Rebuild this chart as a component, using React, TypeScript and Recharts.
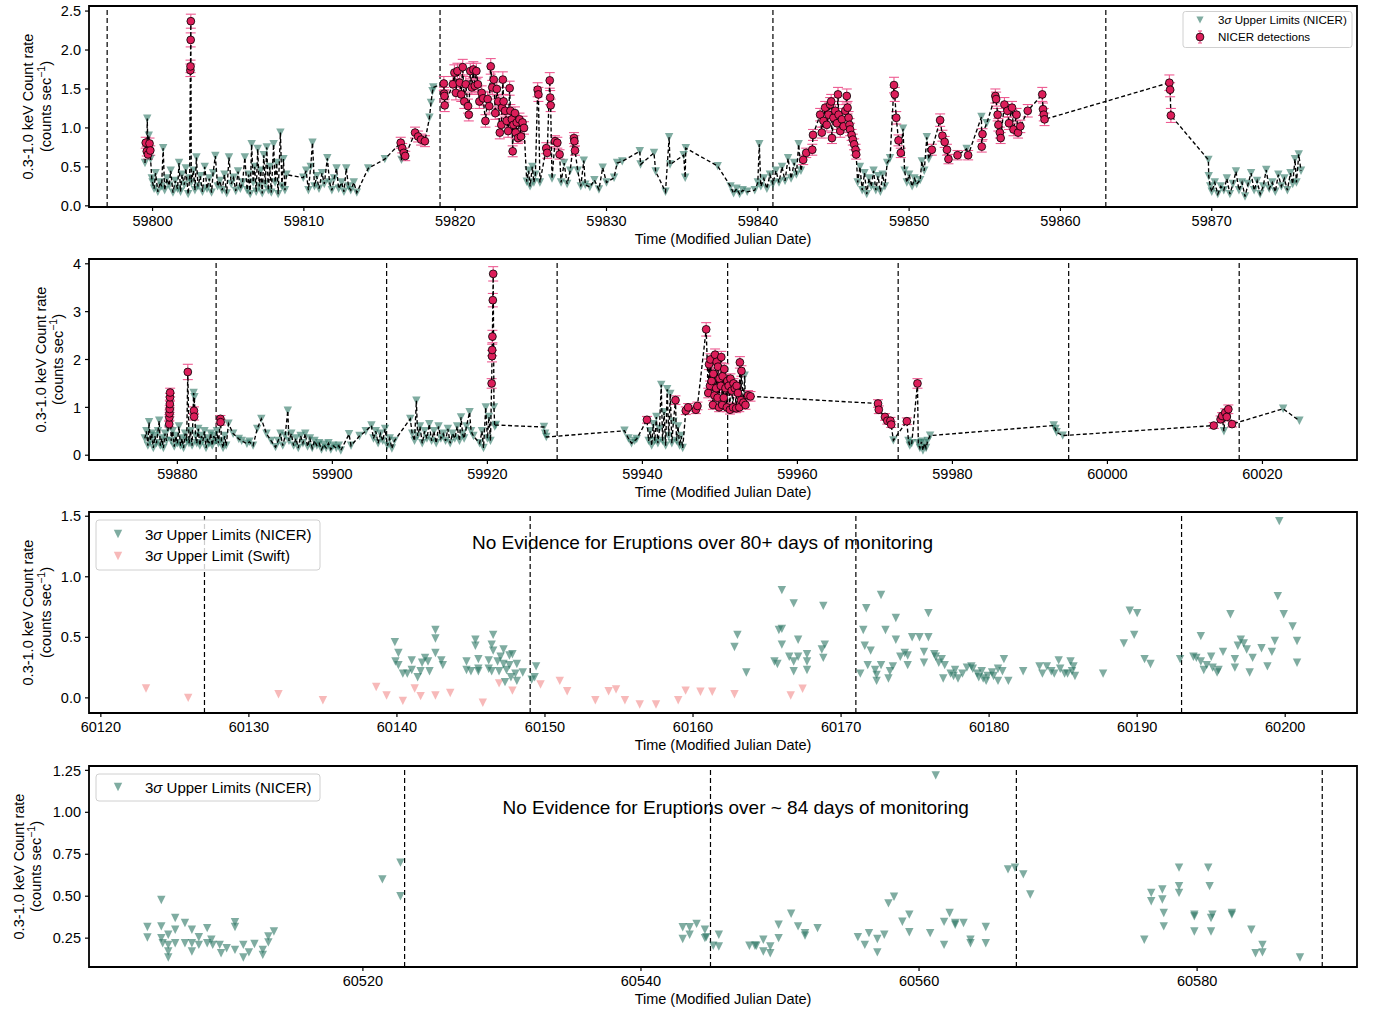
import React from "react";
import {
  ComposedChart,
  Scatter,
  XAxis,
  YAxis,
  ReferenceLine,
  ReferenceArea,
  ErrorBar,
} from "recharts";

const FONT = '"Liberation Sans", Arial, Helvetica, sans-serif';
const LIMIT = "#2a7463";
const SWIFT = "#f08080";
const DET = "#dc1e5a";
const ERR = "#ee5b92";

// ---------- panel 1 (MJD 59796 - 59880) ----------
const p1Epochs = [59797, 59819, 59841, 59863];
const p1XTicks = [59800, 59810, 59820, 59830, 59840, 59850, 59860, 59870];
const p1YTicks = [0, 0.5, 1, 1.5, 2, 2.5];

const p1Limits = [
  [59799.5, 0.55], [59799.58, 0.75], [59799.65, 1.12], [59799.75, 0.9], [59799.87, 0.6], [59799.95, 0.35],
  [59800.0, 0.3], [59800.1, 0.22], [59800.2, 0.42], [59800.35, 0.18], [59800.5, 0.3], [59800.6, 0.25],
  [59800.7, 0.74], [59800.8, 0.2], [59800.95, 0.35], [59801.1, 0.26], [59801.2, 0.45], [59801.35, 0.17],
  [59801.5, 0.32], [59801.65, 0.22], [59801.75, 0.55], [59801.85, 0.18], [59801.95, 0.4], [59802.1, 0.27],
  [59802.2, 0.48], [59802.35, 0.15], [59802.45, 0.35], [59802.56, 0.3], [59802.7, 0.45], [59802.8, 0.2],
  [59802.9, 0.62], [59803.0, 0.25], [59803.15, 0.38], [59803.3, 0.18], [59803.45, 0.5], [59803.6, 0.22],
  [59803.75, 0.35], [59803.9, 0.17], [59804.0, 0.42], [59804.15, 0.64], [59804.3, 0.25], [59804.45, 0.32],
  [59804.6, 0.2], [59804.75, 0.4], [59804.9, 0.16], [59805.05, 0.62], [59805.2, 0.28], [59805.35, 0.36],
  [59805.5, 0.19], [59805.65, 0.44], [59805.8, 0.22], [59805.95, 0.3], [59806.1, 0.62], [59806.25, 0.2],
  [59806.35, 0.4], [59806.45, 0.15], [59806.55, 0.79], [59806.65, 0.3], [59806.75, 0.5], [59806.85, 0.18],
  [59806.95, 0.73], [59807.05, 0.25], [59807.15, 0.45], [59807.25, 0.16], [59807.35, 0.65], [59807.45, 0.28],
  [59807.55, 0.75], [59807.65, 0.2], [59807.75, 0.5], [59807.85, 0.17], [59808.0, 0.79], [59808.1, 0.3],
  [59808.2, 0.55], [59808.3, 0.15], [59808.45, 0.94], [59808.55, 0.25], [59808.65, 0.6], [59808.75, 0.2],
  [59808.85, 0.4], [59809.96, 0.36], [59810.15, 0.45], [59810.3, 0.2], [59810.45, 0.5], [59810.57, 0.81],
  [59810.7, 0.25], [59810.85, 0.38], [59811.0, 0.22], [59811.2, 0.42], [59811.35, 0.28], [59811.55, 0.61],
  [59811.7, 0.3], [59811.85, 0.2], [59812.0, 0.35], [59812.16, 0.48], [59812.3, 0.22], [59812.5, 0.3],
  [59812.65, 0.18], [59812.8, 0.48], [59812.95, 0.25], [59813.1, 0.2], [59813.3, 0.3], [59813.5, 0.17],
  [59814.25, 0.48], [59815.35, 0.6], [59816.45, 0.59], [59818.3, 1.13], [59818.4, 1.32], [59818.5, 1.47],
  [59818.55, 1.52], [59824.73, 0.31], [59824.85, 0.45], [59824.95, 0.25], [59825.1, 0.5], [59825.2, 0.3],
  [59825.3, 0.4], [59825.6, 0.3], [59826.4, 0.35], [59827.0, 0.3], [59827.2, 0.55], [59827.4, 0.28],
  [59827.6, 0.45], [59828.1, 0.45], [59828.3, 0.25], [59828.5, 0.58], [59828.6, 0.27], [59828.9, 0.24],
  [59829.2, 0.33], [59829.5, 0.21], [59829.75, 0.49], [59830.0, 0.3], [59830.5, 0.36], [59830.7, 0.55],
  [59831.04, 0.57], [59832.2, 0.7], [59832.25, 0.53], [59833.14, 0.68], [59833.25, 0.44], [59833.9, 0.18],
  [59834.14, 0.88], [59834.2, 0.53], [59835.1, 0.65], [59835.2, 0.36], [59835.24, 0.74], [59837.35, 0.51],
  [59838.2, 0.25], [59838.4, 0.16], [59838.6, 0.22], [59838.8, 0.15], [59839.0, 0.2], [59839.3, 0.18],
  [59839.8, 0.2], [59840.0, 0.3], [59840.1, 0.79], [59840.2, 0.25], [59840.4, 0.35], [59840.6, 0.22],
  [59840.8, 0.4], [59841.0, 0.28], [59841.2, 0.45], [59841.4, 0.3], [59841.6, 0.5], [59841.8, 0.32],
  [59842.0, 0.61], [59842.2, 0.35], [59842.4, 0.55], [59842.55, 0.4], [59842.7, 0.79], [59842.85, 0.45],
  [59846.6, 0.3], [59846.75, 0.5], [59846.9, 0.2], [59847.05, 0.42], [59847.2, 0.15], [59847.35, 0.35],
  [59847.5, 0.25], [59847.65, 0.45], [59847.8, 0.2], [59847.95, 0.38], [59848.1, 0.18], [59848.25, 0.4],
  [59848.4, 0.25], [59848.55, 0.55], [59848.74, 0.61], [59849.6, 0.99], [59849.7, 0.45], [59849.85, 0.3],
  [59850.0, 0.4], [59850.2, 0.25], [59850.35, 0.35], [59850.5, 0.28], [59850.73, 0.33], [59850.84, 0.57],
  [59851.0, 0.45], [59851.17, 0.88], [59851.3, 0.6], [59853.8, 0.73], [59854.78, 1.14], [59855.13, 1.06],
  [59869.78, 0.59], [59869.8, 0.38], [59869.9, 0.25], [59870.0, 0.18], [59870.2, 0.3], [59870.4, 0.15],
  [59870.6, 0.25], [59870.8, 0.2], [59871.0, 0.35], [59871.2, 0.15], [59871.4, 0.28], [59871.6, 0.44],
  [59871.8, 0.2], [59872.0, 0.3], [59872.2, 0.12], [59872.4, 0.28], [59872.6, 0.42], [59872.8, 0.2],
  [59873.0, 0.32], [59873.2, 0.15], [59873.4, 0.25], [59873.6, 0.46], [59873.8, 0.22], [59874.0, 0.3],
  [59874.2, 0.18], [59874.4, 0.4], [59874.6, 0.25], [59874.8, 0.35], [59875.0, 0.2], [59875.2, 0.42],
  [59875.35, 0.28], [59875.5, 0.6], [59875.6, 0.3], [59875.75, 0.66], [59875.9, 0.45],
];

const p1Detections = [
  [59799.55, 0.81, 0.07], [59799.62, 0.7, 0.06], [59799.7, 0.66, 0.06], [59799.8, 0.8, 0.07], [59799.85, 0.71, 0.06],
  [59802.5, 1.74, 0.08], [59802.51, 1.79, 0.08], [59802.52, 2.13, 0.09], [59802.53, 2.37, 0.09],
  [59816.4, 0.81, 0.07], [59816.5, 0.74, 0.06], [59816.6, 0.68, 0.06], [59816.7, 0.64, 0.06],
  [59817.35, 0.94, 0.07], [59817.55, 0.89, 0.07], [59817.75, 0.85, 0.07], [59818.0, 0.83, 0.07],
  [59819.25, 1.57, 0.09], [59819.27, 1.44, 0.08], [59819.29, 1.41, 0.08], [59819.31, 1.29, 0.08],
  [59819.85, 1.56, 0.1], [59819.95, 1.71, 0.1], [59820.05, 1.45, 0.09], [59820.15, 1.73, 0.1], [59820.3, 1.58, 0.1],
  [59820.4, 1.43, 0.09], [59820.5, 1.78, 0.1], [59820.6, 1.34, 0.09], [59820.7, 1.56, 0.1], [59820.85, 1.28, 0.09],
  [59820.9, 1.17, 0.08], [59821.0, 1.73, 0.1], [59821.1, 1.52, 0.09], [59821.2, 1.75, 0.1], [59821.3, 1.54, 0.09],
  [59821.4, 1.73, 0.1], [59821.5, 1.56, 0.09], [59821.6, 1.34, 0.09], [59821.75, 1.45, 0.09], [59821.85, 1.38, 0.09],
  [59822.0, 1.09, 0.08], [59822.15, 1.37, 0.09], [59822.25, 1.28, 0.09], [59822.35, 1.79, 0.1], [59822.45, 1.52, 0.09],
  [59822.55, 1.62, 0.1], [59822.65, 1.19, 0.08], [59822.75, 1.5, 0.09], [59822.85, 1.34, 0.09], [59822.95, 0.94, 0.08],
  [59823.05, 1.04, 0.08], [59823.1, 1.26, 0.09], [59823.15, 1.62, 0.1], [59823.2, 1.34, 0.09], [59823.3, 1.22, 0.08],
  [59823.4, 1.09, 0.08], [59823.5, 0.96, 0.08], [59823.6, 1.51, 0.09], [59823.65, 1.22, 0.08], [59823.75, 1.11, 0.08],
  [59823.8, 0.7, 0.07], [59823.85, 1.04, 0.08], [59823.95, 1.19, 0.08], [59824.0, 0.94, 0.08], [59824.07, 1.07, 0.08],
  [59824.15, 0.87, 0.07], [59824.25, 1.11, 0.08], [59824.35, 0.89, 0.07], [59824.45, 1.07, 0.08], [59824.55, 1.0, 0.08],
  [59825.45, 1.49, 0.09], [59825.5, 1.43, 0.09], [59826.02, 0.74, 0.07], [59826.08, 0.68, 0.07],
  [59826.25, 1.61, 0.1], [59826.28, 1.39, 0.09], [59826.31, 1.29, 0.08],
  [59826.6, 0.83, 0.07], [59826.75, 0.81, 0.07], [59826.9, 0.66, 0.06],
  [59827.85, 0.87, 0.07], [59827.88, 0.83, 0.07], [59827.92, 0.71, 0.06],
  [59843.0, 0.59, 0.06], [59843.2, 0.68, 0.06], [59843.6, 0.72, 0.07], [59843.65, 0.91, 0.07],
  [59844.12, 1.17, 0.08], [59844.23, 0.94, 0.07], [59844.34, 1.09, 0.08], [59844.45, 1.26, 0.08], [59844.56, 1.04, 0.08],
  [59844.67, 1.17, 0.08], [59844.78, 1.3, 0.09], [59844.85, 1.34, 0.09], [59844.9, 0.87, 0.07], [59845.0, 1.13, 0.08],
  [59845.12, 1.22, 0.08], [59845.23, 1.06, 0.08], [59845.3, 1.43, 0.09], [59845.34, 1.17, 0.08], [59845.45, 0.96, 0.08],
  [59845.56, 1.11, 0.08], [59845.67, 1.02, 0.08], [59845.78, 1.22, 0.08], [59845.88, 1.41, 0.09], [59845.93, 1.26, 0.08],
  [59846.0, 1.13, 0.08], [59846.06, 1.04, 0.08], [59846.1, 0.98, 0.08], [59846.2, 0.91, 0.07], [59846.28, 0.85, 0.07],
  [59846.37, 0.79, 0.07], [59846.46, 0.72, 0.07], [59846.5, 0.66, 0.06],
  [59849.0, 1.55, 0.1], [59849.05, 1.43, 0.09], [59849.15, 1.13, 0.08], [59849.3, 0.84, 0.07], [59849.45, 0.68, 0.06],
  [59851.5, 0.72, 0.07], [59852.05, 1.1, 0.08], [59852.2, 0.9, 0.07], [59852.35, 0.82, 0.07], [59852.5, 0.72, 0.07],
  [59852.6, 0.6, 0.06], [59853.2, 0.65, 0.06], [59853.9, 0.65, 0.06], [59854.8, 0.76, 0.07], [59854.85, 0.92, 0.07],
  [59855.7, 1.41, 0.09], [59855.75, 1.37, 0.09], [59855.85, 1.17, 0.08], [59855.9, 1.04, 0.08], [59856.0, 0.94, 0.07],
  [59856.05, 0.87, 0.07], [59856.3, 1.3, 0.09], [59856.5, 1.22, 0.08], [59856.6, 1.06, 0.08], [59856.8, 1.26, 0.08],
  [59856.9, 0.98, 0.08], [59857.1, 1.17, 0.08], [59857.2, 0.94, 0.07], [59857.35, 1.02, 0.08], [59857.84, 1.22, 0.08],
  [59858.8, 1.43, 0.09], [59858.85, 1.24, 0.08], [59858.9, 1.17, 0.08], [59858.95, 1.11, 0.08],
  [59867.2, 1.58, 0.1], [59867.25, 1.49, 0.09], [59867.3, 1.16, 0.09],
];

// ---------- panel 2 (MJD 59868 - 60032) ----------
const p2Epochs = [59885, 59907, 59929, 59951, 59973, 59995, 60017];
const p2XTicks = [59880, 59900, 59920, 59940, 59960, 59980, 60000, 60020];
const p2YTicks = [0, 1, 2, 3, 4];

const p2Limits = [
  [59875.8, 0.35], [59876.0, 0.5], [59876.2, 0.2], [59876.35, 0.69], [59876.5, 0.3], [59876.7, 0.45],
  [59876.9, 0.15], [59877.1, 0.4], [59877.3, 0.25], [59877.5, 0.5], [59877.66, 0.72], [59877.8, 0.2],
  [59878.0, 0.35], [59878.2, 0.15], [59878.4, 0.45], [59878.6, 0.3], [59878.8, 0.55], [59879.2, 0.3],
  [59879.4, 0.5], [59879.6, 0.18], [59879.8, 0.4], [59880.0, 0.25], [59880.2, 0.6], [59880.4, 0.2],
  [59880.6, 0.35], [59880.8, 0.15], [59881.0, 0.45], [59881.2, 0.3], [59881.5, 0.25], [59881.7, 0.5],
  [59881.9, 0.2], [59882.1, 1.3], [59882.2, 1.21], [59882.35, 0.4], [59882.5, 0.25], [59882.7, 0.55],
  [59882.9, 0.2], [59883.1, 0.4], [59883.3, 0.3], [59883.5, 0.5], [59883.7, 0.15], [59883.9, 0.35],
  [59884.1, 0.25], [59884.3, 0.45], [59884.5, 0.2], [59884.7, 0.4], [59884.9, 0.3], [59885.1, 0.5],
  [59885.3, 0.25], [59885.7, 0.3], [59885.9, 0.15], [59886.1, 0.4], [59886.3, 0.2], [59886.6, 0.66],
  [59887.2, 0.45], [59887.93, 0.34], [59888.3, 0.3], [59888.98, 0.24], [59889.3, 0.28], [59889.77, 0.2],
  [59890.3, 0.55], [59890.83, 0.76], [59891.5, 0.45], [59892.1, 0.3], [59892.67, 0.17], [59893.0, 0.3],
  [59893.3, 0.45], [59893.6, 0.2], [59893.9, 0.4], [59894.25, 0.93], [59894.4, 0.3], [59894.7, 0.45],
  [59895.0, 0.2], [59895.3, 0.35], [59895.6, 0.15], [59895.9, 0.4], [59896.2, 0.25], [59896.5, 0.45],
  [59896.8, 0.18], [59897.1, 0.35], [59897.4, 0.15], [59897.7, 0.3], [59898.0, 0.2], [59898.3, 0.25],
  [59898.6, 0.12], [59898.9, 0.22], [59899.2, 0.15], [59899.5, 0.25], [59899.8, 0.12], [59900.1, 0.2],
  [59900.5, 0.15], [59900.83, 0.2], [59901.09, 0.1], [59902.15, 0.44], [59902.41, 0.2], [59903.5, 0.4],
  [59904.3, 0.5], [59905.04, 0.62], [59905.3, 0.35], [59905.6, 0.5], [59905.9, 0.25], [59906.2, 0.45],
  [59906.5, 0.3], [59906.8, 0.55], [59907.1, 0.2], [59907.4, 0.35], [59907.68, 0.14], [59908.0, 0.3],
  [59910.05, 0.76], [59910.3, 0.45], [59910.6, 0.3], [59910.84, 1.14], [59911.0, 0.4], [59911.3, 0.6],
  [59911.6, 0.25], [59911.9, 0.5], [59912.2, 0.35], [59912.5, 0.65], [59912.8, 0.3], [59913.1, 0.5],
  [59913.4, 0.25], [59913.7, 0.6], [59914.0, 0.35], [59914.3, 0.45], [59914.6, 0.3], [59914.9, 0.55],
  [59915.2, 0.25], [59915.5, 0.45], [59915.8, 0.35], [59916.1, 0.6], [59916.4, 0.3], [59916.6, 0.79],
  [59916.8, 0.45], [59917.0, 0.35], [59917.3, 0.6], [59917.7, 0.9], [59917.9, 0.5], [59918.2, 0.4],
  [59919.0, 0.25], [59919.3, 0.5], [59919.5, 0.15], [59919.79, 1.0], [59920.0, 0.35], [59920.2, 0.8],
  [59920.4, 0.3], [59920.85, 1.0], [59920.95, 0.6], [59921.1, 0.63], [59927.3, 0.59], [59927.45, 0.45],
  [59927.6, 0.38], [59937.69, 0.51], [59938.2, 0.35], [59938.6, 0.25], [59939.0, 0.3], [59939.27, 0.34],
  [59940.8, 0.3], [59941.0, 0.5], [59941.2, 0.2], [59941.4, 0.65], [59941.6, 0.3], [59941.8, 0.8],
  [59942.0, 0.25], [59942.2, 0.55], [59942.43, 1.47], [59942.6, 0.3], [59942.8, 0.9], [59943.0, 0.2],
  [59943.2, 1.38], [59943.4, 0.4], [59943.6, 1.28], [59943.8, 0.25], [59944.0, 0.7], [59944.4, 0.3],
  [59944.6, 0.6], [59944.8, 0.2], [59945.0, 0.4], [59945.2, 0.15], [59953.2, 1.66], [59972.38, 0.31],
  [59974.33, 0.3], [59974.5, 0.2], [59974.75, 0.25], [59975.6, 0.25], [59975.8, 0.15], [59976.0, 0.28],
  [59976.2, 0.1], [59976.4, 0.25], [59976.6, 0.15], [59976.8, 0.3], [59977.12, 0.41], [59993.07, 0.62],
  [59993.3, 0.55], [59993.44, 0.48], [59994.23, 0.41], [60015.03, 0.5], [60022.67, 0.97], [60024.77, 0.72],
];

const p2Detections = [
  [59878.95, 0.65, 0.06], [59878.97, 0.79, 0.06], [59878.99, 0.875, 0.07], [59879.01, 0.965, 0.07],
  [59879.03, 1.07, 0.08], [59879.05, 1.21, 0.08], [59879.07, 1.31, 0.09], [59881.35, 1.74, 0.16],
  [59882.14, 0.93, 0.08], [59882.16, 0.805, 0.07], [59885.56, 0.76, 0.07], [59885.58, 0.69, 0.06],
  [59920.55, 1.5, 0.1], [59920.6, 2.07, 0.12], [59920.62, 2.2, 0.12], [59920.65, 2.48, 0.13],
  [59920.7, 3.24, 0.14], [59920.75, 3.79, 0.15], [59940.59, 0.74, 0.07], [59944.27, 1.15, 0.09],
  [59945.6, 0.93, 0.08], [59945.9, 1.0, 0.08], [59946.9, 0.95, 0.08], [59947.1, 1.03, 0.08],
  [59948.23, 2.63, 0.14],
  [59948.5, 1.3, 0.1], [59948.6, 1.9, 0.11], [59948.72, 1.45, 0.1], [59948.78, 2.0, 0.12],
  [59948.93, 1.55, 0.1], [59949.1, 1.05, 0.09], [59949.15, 1.7, 0.11], [59949.3, 1.25, 0.1],
  [59949.38, 2.1, 0.12], [59949.52, 1.4, 0.1], [59949.58, 1.95, 0.12], [59949.7, 1.2, 0.1],
  [59949.75, 1.85, 0.11], [59949.9, 1.0, 0.09], [59949.95, 1.6, 0.1], [59950.12, 1.45, 0.1],
  [59950.18, 2.05, 0.12], [59950.3, 1.05, 0.09], [59950.35, 1.65, 0.11], [59950.5, 1.2, 0.1],
  [59950.56, 1.8, 0.11], [59950.72, 1.4, 0.1], [59950.9, 1.0, 0.09], [59950.96, 1.55, 0.1],
  [59951.13, 1.45, 0.1], [59951.3, 0.95, 0.09], [59951.36, 1.6, 0.1], [59951.53, 1.35, 0.1],
  [59951.7, 1.0, 0.09], [59951.76, 1.5, 0.1], [59951.93, 1.4, 0.1], [59952.1, 0.98, 0.09],
  [59952.16, 1.45, 0.1], [59952.33, 1.3, 0.1], [59952.5, 1.0, 0.09], [59952.58, 1.94, 0.12],
  [59952.72, 1.15, 0.1], [59952.78, 1.76, 0.11], [59953.03, 1.1, 0.09], [59953.3, 1.05, 0.09],
  [59953.63, 1.25, 0.1], [59953.95, 1.23, 0.1],
  [59970.4, 1.08, 0.08], [59970.5, 0.95, 0.08], [59971.3, 0.8, 0.07], [59971.6, 0.72, 0.07],
  [59972.0, 0.72, 0.07], [59972.1, 0.64, 0.06], [59974.12, 0.71, 0.07], [59975.49, 1.5, 0.1],
  [60013.72, 0.62, 0.06], [60014.6, 0.75, 0.07], [60014.8, 0.82, 0.07], [60015.2, 0.89, 0.08],
  [60015.4, 0.8, 0.07], [60015.6, 0.96, 0.09], [60016.08, 0.65, 0.06],
];

// ---------- panel 3 (MJD 60119 - 60205) ----------
const p3Epochs = [60127, 60149, 60171, 60193];
const p3XTicks = [60120, 60130, 60140, 60150, 60160, 60170, 60180, 60190, 60200];
const p3YTicks = [0, 0.5, 1, 1.5];

const p3Nicer = [
  [60139.86, 0.46], [60140.1, 0.37], [60139.9, 0.3], [60140.1, 0.27], [60140.4, 0.2], [60140.7, 0.2],
  [60141.0, 0.31], [60141.0, 0.23], [60141.4, 0.17], [60141.6, 0.22], [60141.7, 0.29], [60141.9, 0.33],
  [60142.1, 0.3], [60142.2, 0.22], [60142.6, 0.56], [60142.6, 0.49], [60142.6, 0.37], [60143.0, 0.31],
  [60143.1, 0.27], [60144.7, 0.3], [60144.7, 0.23], [60145.0, 0.22], [60145.3, 0.48], [60145.3, 0.43],
  [60145.5, 0.32], [60145.5, 0.24], [60145.5, 0.22], [60146.2, 0.31], [60146.2, 0.24], [60146.4, 0.22],
  [60146.5, 0.52], [60146.4, 0.44], [60146.5, 0.39], [60146.8, 0.3], [60146.9, 0.22], [60147.0, 0.34],
  [60147.2, 0.4], [60147.2, 0.28], [60147.3, 0.13], [60147.4, 0.23], [60147.6, 0.35], [60147.6, 0.27],
  [60147.7, 0.17], [60147.8, 0.36], [60148.0, 0.2], [60148.1, 0.14], [60148.1, 0.28], [60148.5, 0.21],
  [60149.1, 0.15], [60149.3, 0.17], [60149.4, 0.26],
  [60162.8, 0.42], [60163.0, 0.52], [60163.6, 0.21], [60165.5, 0.3], [60165.7, 0.28], [60165.8, 0.56],
  [60166.0, 0.57], [60166.0, 0.89], [60166.0, 0.44], [60166.5, 0.34], [60166.8, 0.78], [60166.8, 0.3],
  [60166.8, 0.22], [60167.1, 0.48], [60167.1, 0.34], [60167.7, 0.36], [60167.7, 0.3], [60167.7, 0.23],
  [60168.7, 0.4], [60168.8, 0.33], [60168.8, 0.76], [60168.9, 0.44],
  [60171.3, 0.2], [60171.5, 0.56], [60171.6, 0.43], [60171.7, 0.74], [60171.8, 0.27], [60172.0, 0.39],
  [60172.3, 0.23], [60172.4, 0.19], [60172.4, 0.14], [60172.7, 0.85], [60172.7, 0.27], [60173.0, 0.56],
  [60173.2, 0.16], [60173.3, 0.22], [60173.5, 0.26], [60173.7, 0.66], [60173.7, 0.48], [60174.0, 0.34],
  [60174.3, 0.37], [60174.5, 0.35], [60174.5, 0.27], [60174.8, 0.5], [60175.3, 0.5], [60175.6, 0.38],
  [60175.6, 0.29], [60175.9, 0.7], [60175.9, 0.5], [60176.3, 0.36], [60176.4, 0.34], [60176.6, 0.29],
  [60176.8, 0.32], [60176.9, 0.16], [60177.0, 0.27], [60177.4, 0.2], [60177.6, 0.18], [60177.7, 0.23],
  [60177.9, 0.16], [60178.2, 0.2], [60178.5, 0.25], [60178.8, 0.26], [60178.9, 0.24], [60179.2, 0.2],
  [60179.3, 0.17], [60179.5, 0.22], [60179.6, 0.16], [60179.8, 0.14], [60179.9, 0.18], [60180.2, 0.21],
  [60180.3, 0.18], [60180.6, 0.24], [60180.6, 0.14], [60180.9, 0.22], [60181.0, 0.32], [60181.3, 0.14],
  [60182.3, 0.22], [60183.4, 0.26], [60183.6, 0.2], [60183.9, 0.26], [60184.2, 0.22], [60184.4, 0.2],
  [60184.7, 0.31], [60184.8, 0.24], [60185.1, 0.2], [60185.3, 0.2], [60185.5, 0.3], [60185.6, 0.22],
  [60185.7, 0.26], [60185.8, 0.18], [60187.7, 0.2], [60189.1, 0.45], [60189.5, 0.72], [60189.8, 0.52],
  [60190.0, 0.7], [60190.5, 0.32], [60190.9, 0.28], [60192.9, 0.32], [60193.8, 0.34], [60194.0, 0.33],
  [60194.3, 0.51], [60194.3, 0.3], [60194.5, 0.23], [60194.7, 0.27], [60195.0, 0.34], [60195.1, 0.25],
  [60195.4, 0.21], [60195.5, 0.23], [60195.8, 0.38], [60196.3, 0.69], [60196.6, 0.32], [60196.6, 0.25],
  [60196.8, 0.43], [60197.0, 0.48], [60197.2, 0.45], [60197.4, 0.4], [60197.6, 0.21], [60197.8, 0.33],
  [60198.4, 0.41], [60198.8, 0.26], [60199.1, 0.38], [60199.3, 0.47], [60199.5, 0.84], [60199.6, 1.46],
  [60199.9, 0.69], [60200.5, 0.59], [60200.8, 0.47], [60200.8, 0.29],
];

const p3Swift = [
  [60123.05, 0.077], [60125.9, 0.0], [60132.0, 0.03], [60135.0, -0.02], [60138.6, 0.09], [60139.3, 0.02],
  [60140.4, -0.025], [60141.2, 0.077], [60141.6, 0.014], [60142.6, 0.02], [60143.6, 0.04], [60145.8, -0.04],
  [60146.9, 0.12], [60147.8, 0.06], [60149.7, 0.11], [60151.0, 0.14], [60151.5, 0.055], [60153.4, -0.02],
  [60154.3, 0.055], [60154.8, 0.07], [60155.4, -0.02], [60156.4, -0.055], [60157.5, -0.055], [60159.0, -0.02],
  [60159.5, 0.06], [60160.5, 0.05], [60161.3, 0.05], [60162.8, 0.03], [60166.6, 0.02], [60167.4, 0.075],
];

// ---------- panel 4 (MJD 60500 - 60592) ----------
const p4Epochs = [60523, 60545, 60567, 60589];
const p4XTicks = [60520, 60540, 60560, 60580];
const p4YTicks = [0.25, 0.5, 0.75, 1.0, 1.25];

const p4Nicer = [
  [60504.5, 0.316], [60504.5, 0.254], [60505.5, 0.477], [60505.5, 0.32], [60505.5, 0.25], [60505.6, 0.22],
  [60506.0, 0.27], [60506.0, 0.21], [60506.0, 0.17], [60506.0, 0.135], [60506.5, 0.37], [60506.5, 0.3],
  [60506.5, 0.22], [60507.2, 0.34], [60507.2, 0.22], [60507.7, 0.3], [60507.7, 0.22], [60507.7, 0.17],
  [60508.2, 0.255], [60508.2, 0.21], [60508.8, 0.31], [60508.8, 0.22], [60509.1, 0.24], [60509.2, 0.21],
  [60509.7, 0.21], [60509.8, 0.16], [60510.2, 0.19], [60510.8, 0.345], [60510.8, 0.316], [60510.8, 0.18],
  [60511.4, 0.21], [60511.4, 0.135], [60511.8, 0.165], [60512.2, 0.215], [60512.8, 0.18], [60512.8, 0.15],
  [60513.2, 0.225], [60513.2, 0.26], [60513.6, 0.29], [60521.4, 0.6], [60522.7, 0.7], [60522.7, 0.5],
  [60543.0, 0.315], [60543.0, 0.245], [60543.5, 0.315], [60543.5, 0.27], [60544.0, 0.335], [60544.6, 0.3],
  [60544.6, 0.25], [60544.7, 0.256], [60545.2, 0.205], [60545.6, 0.27], [60545.6, 0.2], [60547.8, 0.205],
  [60548.2, 0.205], [60548.3, 0.205], [60548.8, 0.24], [60548.8, 0.17], [60549.3, 0.2], [60549.3, 0.16],
  [60549.9, 0.33], [60549.9, 0.25], [60550.8, 0.395], [60551.3, 0.32], [60551.8, 0.28], [60551.8, 0.265],
  [60552.7, 0.31], [60555.6, 0.256], [60556.1, 0.21], [60556.4, 0.28], [60557.0, 0.245], [60557.0, 0.165],
  [60557.5, 0.27], [60557.8, 0.457], [60558.2, 0.497], [60558.8, 0.348], [60559.3, 0.39], [60559.3, 0.285],
  [60560.8, 0.28], [60561.2, 1.22], [60561.8, 0.347], [60561.8, 0.21], [60562.2, 0.4], [60562.6, 0.34],
  [60562.6, 0.33], [60563.2, 0.34], [60563.7, 0.24], [60563.7, 0.22], [60564.8, 0.316], [60564.8, 0.22],
  [60566.4, 0.66], [60566.9, 0.67], [60567.5, 0.63], [60568.0, 0.51], [60576.2, 0.24], [60576.7, 0.52],
  [60576.7, 0.47], [60577.5, 0.54], [60577.5, 0.48], [60577.6, 0.4], [60577.6, 0.32], [60578.7, 0.67],
  [60578.7, 0.56], [60578.7, 0.52], [60579.8, 0.39], [60579.8, 0.38], [60579.8, 0.29], [60580.8, 0.67],
  [60580.9, 0.56], [60581.0, 0.37], [60581.1, 0.39], [60581.0, 0.29], [60582.5, 0.4], [60582.5, 0.39],
  [60583.9, 0.3], [60584.2, 0.16], [60584.7, 0.21], [60584.7, 0.165], [60587.4, 0.135],
];

type Pt = { t: number; v: number; e?: number };
const pts = (rows: number[][]): Pt[] => rows.map((r) => ({ t: r[0], v: r[1], e: r[2] }));
const joined = (a: number[][], b: number[][]): Pt[] =>
  pts([...a, ...b]).sort((p, q) => p.t - q.t);

const tri = (color: string, opacity: number, s = 4.2) => (props: any) => {
  const { cx, cy } = props;
  if (cx == null || cy == null) return <g />;
  return (
    <path
      d={`M${cx - s},${cy - s}L${cx + s},${cy - s}L${cx},${cy + s}Z`}
      fill={color}
      fillOpacity={opacity}
    />
  );
};

const dot = (props: any) => {
  const { cx, cy } = props;
  if (cx == null || cy == null) return <g />;
  return <circle cx={cx} cy={cy} r={3.9} fill={DET} stroke="#000" strokeWidth={0.8} />;
};

const nothing = () => <g />;

interface PanelProps {
  top: number;
  xDomain: [number, number];
  yDomain: [number, number];
  xTicks: number[];
  yTicks: number[];
  yDigits: number;
  epochs: number[];
  limits: number[][];
  detections?: number[][];
  swift?: number[][];
}

function Panel(p: PanelProps) {
  const [x0, x1] = p.xDomain;
  const [y0, y1] = p.yDomain;
  const tickStyle = { fill: "#000", fontSize: 14.5, fontFamily: FONT };
  return (
    <div style={{ position: "absolute", left: 0, top: p.top }}>
      <ComposedChart width={1374} height={253} margin={{ top: 6, right: 17, bottom: 0, left: 0 }}>
        <XAxis
          type="number"
          dataKey="t"
          domain={p.xDomain}
          ticks={p.xTicks}
          allowDataOverflow
          interval={0}
          height={46}
          axisLine={false}
          tickSize={4}
          tickMargin={5}
          tickLine={{ stroke: "#000", strokeWidth: 1.2 }}
          tick={tickStyle}
        />
        <YAxis
          type="number"
          dataKey="v"
          domain={p.yDomain}
          ticks={p.yTicks}
          allowDataOverflow
          interval={0}
          width={89}
          axisLine={false}
          tickSize={4}
          tickMargin={4}
          tickLine={{ stroke: "#000", strokeWidth: 1.2 }}
          tick={tickStyle}
          tickFormatter={(v: number) => v.toFixed(p.yDigits)}
        />
        {p.epochs.map((x) => (
          <ReferenceLine key={x} x={x} stroke="#000" strokeWidth={1.2} strokeDasharray="5 3" />
        ))}
        {p.swift && (
          <Scatter data={pts(p.swift)} shape={tri(SWIFT, 0.55)} isAnimationActive={false} />
        )}
        <Scatter data={pts(p.limits)} shape={tri(LIMIT, 0.6)} isAnimationActive={false} />
        {p.detections && (
          <Scatter
            data={joined(p.limits, p.detections)}
            shape={nothing}
            line={{ stroke: "#000", strokeWidth: 1.35, strokeDasharray: "4 2.5" }}
            isAnimationActive={false}
          />
        )}
        {p.detections && (
          <Scatter data={pts(p.detections)} shape={dot} isAnimationActive={false}>
            <ErrorBar dataKey="e" direction="y" width={5} stroke={ERR} strokeWidth={1.1} />
          </Scatter>
        )}
        <ReferenceArea
          x1={x0}
          x2={x1}
          y1={y0}
          y2={y1}
          fill="none"
          stroke="#000"
          strokeWidth={1.8}
          ifOverflow="visible"
        />
      </ComposedChart>
    </div>
  );
}

function YTitle({ x1, x2, cy }: { x1: number; x2: number; cy: number }) {
  return (
    <g fontFamily={FONT} fontSize={14.5} fill="#000">
      <text transform={`translate(${x1},${cy}) rotate(-90)`} textAnchor="middle">
        0.3-1.0 keV Count rate
      </text>
      <text transform={`translate(${x2},${cy}) rotate(-90)`} textAnchor="middle">
        (counts sec
        <tspan dy={-6} fontSize={10.5}>−1</tspan>
        <tspan dy={6}>)</tspan>
      </text>
    </g>
  );
}

function LegendTri({ x, y, color, opacity, s = 4.2 }: any) {
  return (
    <path
      d={`M${x - s},${y - s}L${x + s},${y - s}L${x},${y + s}Z`}
      fill={color}
      fillOpacity={opacity}
    />
  );
}

function Overlay() {
  const titleY = [244, 497, 750, 1004];
  return (
    <svg
      width={1374}
      height={1013}
      style={{ position: "absolute", left: 0, top: 0, pointerEvents: "none" }}
    >
      <YTitle x1={33} x2={50.5} cy={106.5} />
      <YTitle x1={45.5} x2={63} cy={359.5} />
      <YTitle x1={33} x2={50.5} cy={612.5} />
      <YTitle x1={23.5} x2={41} cy={866.5} />
      {titleY.map((y) => (
        <text key={y} x={723} y={y} textAnchor="middle" fontFamily={FONT} fontSize={14.5}>
          Time (Modified Julian Date)
        </text>
      ))}

      {/* legend, panel 1 */}
      <rect x={1183} y={11.5} width={169} height={36} rx={2.5} fill="#fff" fillOpacity={0.8} stroke="#d0d0d0" />
      <LegendTri x={1200} y={20} color={LIMIT} opacity={0.6} s={3.6} />
      <text x={1218} y={24} fontFamily={FONT} fontSize={11.6}>
        3<tspan fontStyle="italic">σ</tspan> Upper Limits (NICER)
      </text>
      <line x1={1200} x2={1200} y1={31} y2={43} stroke={ERR} strokeWidth={1.1} />
      <line x1={1198} x2={1202} y1={31} y2={31} stroke={ERR} strokeWidth={1.1} />
      <line x1={1198} x2={1202} y1={43} y2={43} stroke={ERR} strokeWidth={1.1} />
      <circle cx={1200} cy={37} r={3.9} fill={DET} stroke="#000" strokeWidth={0.8} />
      <text x={1218} y={41} fontFamily={FONT} fontSize={11.6}>
        NICER detections
      </text>

      {/* legend + note, panel 3 */}
      <rect x={96} y={520} width={224} height={50} rx={3} fill="#fff" fillOpacity={0.8} stroke="#d0d0d0" />
      <LegendTri x={118} y={534} color={LIMIT} opacity={0.6} />
      <text x={145} y={539.5} fontFamily={FONT} fontSize={15}>
        3<tspan fontStyle="italic">σ</tspan> Upper Limits (NICER)
      </text>
      <LegendTri x={118} y={556} color={SWIFT} opacity={0.55} />
      <text x={145} y={561} fontFamily={FONT} fontSize={15}>
        3<tspan fontStyle="italic">σ</tspan> Upper Limit (Swift)
      </text>
      <text x={472} y={548.5} fontFamily={FONT} fontSize={19}>
        No Evidence for Eruptions over 80+ days of monitoring
      </text>

      {/* legend + note, panel 4 */}
      <rect x={96} y={774} width={224} height={27} rx={3} fill="#fff" fillOpacity={0.8} stroke="#d0d0d0" />
      <LegendTri x={118} y={787} color={LIMIT} opacity={0.6} />
      <text x={145} y={792.5} fontFamily={FONT} fontSize={15}>
        3<tspan fontStyle="italic">σ</tspan> Upper Limits (NICER)
      </text>
      <text x={502.5} y={813.5} fontFamily={FONT} fontSize={19}>
        No Evidence for Eruptions over ~ 84 days of monitoring
      </text>
    </svg>
  );
}

export default function App() {
  return (
    <div
      style={{
        position: "absolute",
        left: 0,
        top: 0,
        width: 1374,
        height: 1013,
        background: "#fff",
        fontFamily: FONT,
      }}
    >
      <Panel
        top={0}
        xDomain={[59795.8, 59879.6]}
        yDomain={[-0.015, 2.565]}
        xTicks={p1XTicks}
        yTicks={p1YTicks}
        yDigits={1}
        epochs={p1Epochs}
        limits={p1Limits}
        detections={p1Detections}
      />
      <Panel
        top={253}
        xDomain={[59868.6, 60032.2]}
        yDomain={[-0.1, 4.1]}
        xTicks={p2XTicks}
        yTicks={p2YTicks}
        yDigits={0}
        epochs={p2Epochs}
        limits={p2Limits}
        detections={p2Detections}
      />
      <Panel
        top={506}
        xDomain={[60119.2, 60204.85]}
        yDomain={[-0.125, 1.535]}
        xTicks={p3XTicks}
        yTicks={p3YTicks}
        yDigits={1}
        epochs={p3Epochs}
        limits={p3Nicer}
        swift={p3Swift}
      />
      <Panel
        top={760}
        xDomain={[60500.3, 60591.5]}
        yDomain={[0.078, 1.276]}
        xTicks={p4XTicks}
        yTicks={p4YTicks}
        yDigits={2}
        epochs={p4Epochs}
        limits={p4Nicer}
      />
      <Overlay />
    </div>
  );
}
